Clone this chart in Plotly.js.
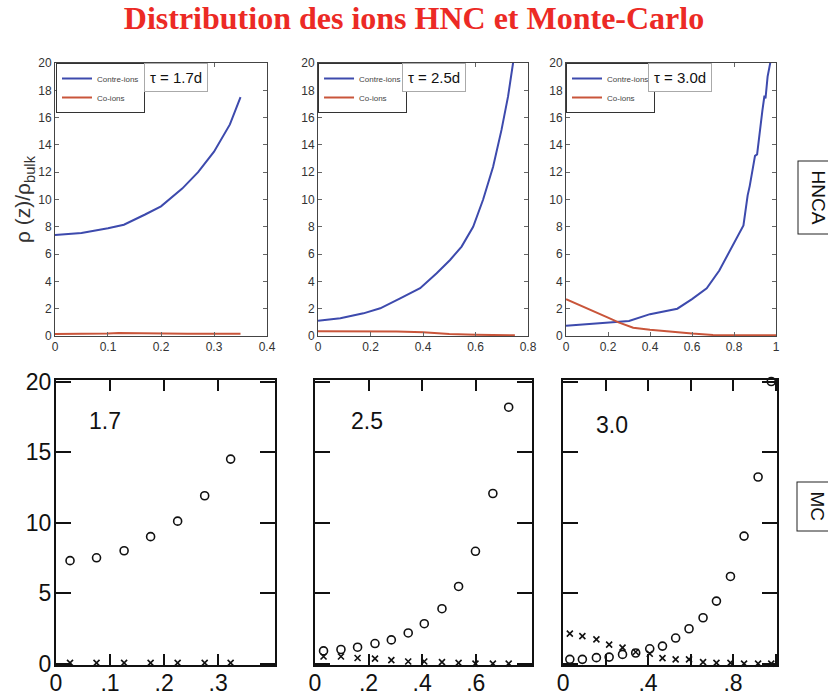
<!DOCTYPE html>
<html>
<head>
<meta charset="utf-8">
<script src="https://cdn.plot.ly/plotly-3.0.1.min.js"></script>
<style>html,body{margin:0;padding:0;background:#fff;}#chart{width:828px;height:700px;}</style>
</head>
<body>
<div id="chart"></div>
<script>
// ---------- HNCA (top row) ----------
const hnca17_x_contre = [0, 0.05, 0.1, 0.13, 0.17, 0.2, 0.24, 0.27, 0.3, 0.33, 0.35];
const hnca17_contre   = [7.4, 7.55, 7.9, 8.15, 8.9, 9.5, 10.8, 12.0, 13.5, 15.5, 17.5];
const hnca17_x_co     = [0, 0.05, 0.1, 0.12, 0.15, 0.2, 0.25, 0.3, 0.35];
const hnca17_co       = [0.15, 0.15, 0.18, 0.22, 0.2, 0.17, 0.17, 0.17, 0.17];

const hnca25_x_contre = [0, 0.085, 0.173, 0.237, 0.313, 0.389, 0.452, 0.503, 0.547, 0.591, 0.629, 0.667, 0.699, 0.724, 0.743, 0.75];
const hnca25_contre   = [1.12, 1.3, 1.66, 2.03, 2.76, 3.5, 4.6, 5.57, 6.55, 8.0, 10.0, 12.4, 15.1, 17.55, 20.0, 21.0];
const hnca25_x_co     = [0, 0.1, 0.2, 0.3, 0.4, 0.5, 0.6, 0.7, 0.75];
const hnca25_co       = [0.35, 0.35, 0.35, 0.33, 0.28, 0.15, 0.09, 0.06, 0.05];

const hnca30_x_contre = [0, 0.1, 0.2, 0.3, 0.4, 0.53, 0.6, 0.67, 0.73, 0.8, 0.845, 0.865, 0.875, 0.9, 0.91, 0.935, 0.945, 0.95, 0.96, 0.975];
const hnca30_contre   = [0.75, 0.85, 0.98, 1.1, 1.6, 2.0, 2.7, 3.5, 4.8, 6.8, 8.1, 10.3, 11.0, 13.2, 13.3, 16.5, 17.6, 17.4, 19.0, 20.2];
const hnca30_x_co     = [0, 0.1, 0.2, 0.25, 0.32, 0.4, 0.5, 0.6, 0.7, 0.8, 1.0];
const hnca30_co       = [2.7, 2.05, 1.35, 1.0, 0.6, 0.45, 0.3, 0.18, 0.08, 0.05, 0.05];

// ---------- Monte-Carlo (bottom row) ----------
const mc17_x       = [0.026, 0.075, 0.126, 0.175, 0.225, 0.275, 0.323];
const mc17_contre  = [7.3, 7.5, 8.0, 9.0, 10.1, 11.9, 14.5];
const mc17_co      = [0.05, 0.05, 0.05, 0.05, 0.05, 0.05, 0.05];

const mc25_x       = [0.032, 0.097, 0.159, 0.224, 0.285, 0.348, 0.408, 0.474, 0.536, 0.599, 0.664, 0.723];
const mc25_contre  = [0.9, 1.0, 1.16, 1.42, 1.68, 2.17, 2.83, 3.89, 5.47, 7.96, 12.06, 18.18];
const mc25_co      = [0.5, 0.5, 0.4, 0.35, 0.25, 0.15, 0.15, 0.1, 0.05, 0.0, 0.0, 0.0];

const mc30_x       = [0.032, 0.091, 0.157, 0.217, 0.28, 0.342, 0.408, 0.468, 0.53, 0.593, 0.659, 0.722, 0.788, 0.852, 0.918, 0.98];
const mc30_contre  = [0.3, 0.3, 0.42, 0.46, 0.65, 0.75, 1.05, 1.24, 1.81, 2.47, 3.25, 4.43, 6.18, 9.04, 13.23, 20.0];
const mc30_co      = [2.12, 1.95, 1.72, 1.34, 1.13, 0.82, 0.7, 0.39, 0.3, 0.3, 0.1, 0.05, 0.05, 0.0, 0.0, 0.0];

// ---------- labels ----------
const titleText   = 'Distribution des ions HNC et Monte-Carlo';
const seriesNames = ['Contre-ions', 'Co-ions'];
const tauLabels   = ['τ = 1.7d', 'τ = 2.5d', 'τ = 3.0d'];
const mcLabels    = ['1.7', '2.5', '3.0'];
const rowLabels   = ['HNCA', 'MC'];
const yTitleTop   = 'ρ (z)/ρ<sub>bulk</sub>';
const mcYTicks    = [0, 5, 10, 15, 20];
const mcYTickText = ['0', '5', '10', '15', '20'];
const mc17XTicks  = [0, 0.1, 0.2, 0.3];
const mc17XText   = ['0', '.1', '.2', '.3'];
const mc25XTicks  = [0, 0.2, 0.4, 0.6];
const mc25XText   = ['0', '.2', '.4', '.6'];
const mc30XTicks  = [0, 0.4, 0.8];
const mc30XText   = ['0', '.4', '.8'];

// ---------- styling ----------
const BLUE = '#3d4aad';
const RED  = '#c9553a';
const topFont = {family: 'Liberation Sans, Arial, sans-serif', size: 12, color: '#333'};
const botFont = {family: 'Liberation Sans, Arial, sans-serif', size: 23, color: '#111'};

function lineTrace(x, y, name, color, xa, ya, leg, show) {
  return {x: x, y: y, type: 'scatter', mode: 'lines', name: name,
          line: {color: color, width: 2}, xaxis: xa, yaxis: ya,
          legend: leg, showlegend: show, hoverinfo: 'skip'};
}
function circTrace(x, y, xa, ya) {
  return {x: x, y: y, type: 'scatter', mode: 'markers', showlegend: false,
          marker: {symbol: 'circle-open', size: 8, color: '#111', line: {width: 1.6, color: '#111'}},
          xaxis: xa, yaxis: ya, cliponaxis: false, hoverinfo: 'skip'};
}
function crossTrace(x, y, xa, ya) {
  return {x: x, y: y, type: 'scatter', mode: 'markers', showlegend: false,
          marker: {symbol: 'x-thin-open', size: 6, color: '#111', line: {width: 1.6, color: '#111'}},
          xaxis: xa, yaxis: ya, cliponaxis: false, hoverinfo: 'skip'};
}

const traces = [
  lineTrace(hnca17_x_contre, hnca17_contre, seriesNames[0], BLUE, 'x', 'y', 'legend', true),
  lineTrace(hnca17_x_co, hnca17_co, seriesNames[1], RED, 'x', 'y', 'legend', true),
  lineTrace(hnca25_x_contre, hnca25_contre, seriesNames[0], BLUE, 'x2', 'y2', 'legend2', true),
  lineTrace(hnca25_x_co, hnca25_co, seriesNames[1], RED, 'x2', 'y2', 'legend2', true),
  lineTrace(hnca30_x_contre, hnca30_contre, seriesNames[0], BLUE, 'x3', 'y3', 'legend3', true),
  lineTrace(hnca30_x_co, hnca30_co, seriesNames[1], RED, 'x3', 'y3', 'legend3', true),
  crossTrace(mc17_x, mc17_co, 'x4', 'y4'),
  circTrace(mc17_x, mc17_contre, 'x4', 'y4'),
  crossTrace(mc25_x, mc25_co, 'x5', 'y5'),
  circTrace(mc25_x, mc25_contre, 'x5', 'y5'),
  crossTrace(mc30_x, mc30_co, 'x6', 'y6'),
  circTrace(mc30_x, mc30_contre, 'x6', 'y6')
];

function topX(domain, range, dtick, anchor) {
  return {domain: domain, range: range, dtick: dtick, anchor: anchor, showgrid: false, zeroline: false,
          showline: true, linecolor: '#444', linewidth: 1, mirror: 'ticks', ticks: 'inside', ticklen: 4,
          tickcolor: '#666', tickfont: topFont, fixedrange: true};
}
function topY(domain, anchor, title) {
  const a = {domain: domain, range: [0, 20], dtick: 2, anchor: anchor, showgrid: false, zeroline: false,
          showline: true, linecolor: '#444', linewidth: 1, mirror: 'ticks', ticks: 'inside', ticklen: 4,
          tickcolor: '#666', tickfont: topFont, fixedrange: true};
  if (title) a.title = {text: title, font: {family: 'Liberation Sans, Arial, sans-serif', size: 21, color: '#333'}, standoff: 1};
  return a;
}
function botX(domain, range, vals, text, anchor, minorDtick) {
  const a = {domain: domain, range: range, tickmode: 'array', tickvals: vals, ticktext: text, anchor: anchor,
          showgrid: false, zeroline: false, showline: true, linecolor: '#111', linewidth: 2, mirror: 'ticks',
          ticks: 'inside', ticklen: 11, tickwidth: 2, tickcolor: '#111', tickfont: botFont,
          ticklabelstandoff: -4, fixedrange: true};
  if (minorDtick) a.minor = {dtick: minorDtick, tick0: 0, ticks: 'inside', ticklen: 11, tickwidth: 2, tickcolor: '#111', showgrid: false};
  return a;
}
function botY(domain, anchor, labels) {
  return {domain: domain, range: [-0.1, 20.1], tickmode: 'array', tickvals: mcYTicks, ticktext: mcYTickText,
          anchor: anchor, showticklabels: labels, showgrid: false, zeroline: false, showline: true,
          linecolor: '#111', linewidth: 2, mirror: 'ticks', ticks: 'inside', ticklen: 15, tickwidth: 2,
          tickcolor: '#111', tickfont: botFont, ticklabelstandoff: -2, fixedrange: true};
}

const topDom = [0.52, 0.91];
const botDom = [0.05, 0.457];

function legendCfg(x) {
  return {x: x, y: 0.91, xref: 'paper', yref: 'paper', xanchor: 'left', yanchor: 'top',
          bgcolor: '#fff', bordercolor: '#333', borderwidth: 1,
          font: {family: 'Liberation Sans, Arial, sans-serif', size: 8, color: '#444'},
          itemwidth: 30, tracegroupgap: 0, itemclick: false, itemdoubleclick: false};
}

function tauAnn(text, xref, yref, x) {
  return {text: text, xref: xref, yref: yref, x: x, y: 1, xanchor: 'left', yanchor: 'top', showarrow: false,
          font: {family: 'Liberation Sans, Arial, sans-serif', size: 15, color: '#111'},
          bgcolor: '#fff', bordercolor: '#aaa', borderwidth: 1, borderpad: 5};
}
function mcAnn(text, xref, yref, x, y) {
  return {text: text, xref: xref, yref: yref, x: x, y: y, xanchor: 'center', yanchor: 'middle', showarrow: false,
          font: {family: 'Liberation Sans, Arial, sans-serif', size: 23, color: '#111'}};
}
function rowAnn(text, y) {
  return {text: text, xref: 'paper', yref: 'paper', x: 797 / 828, y: y, xanchor: 'left', yanchor: 'middle',
          showarrow: false, textangle: 90, font: {family: 'Liberation Sans, Arial, sans-serif', size: 19, color: '#111'},
          bgcolor: '#fff', bordercolor: '#222', borderwidth: 1, borderpad: 9};
}

const layout = {
  width: 828, height: 700,
  margin: {l: 0, r: 0, t: 0, b: 0},
  paper_bgcolor: '#fff', plot_bgcolor: '#fff',
  title: {text: titleText, x: 0.5, xanchor: 'center', y: 1 - 18 / 700, yanchor: 'middle',
          font: {family: 'Liberation Serif, serif', size: 32, color: '#ec2a25', weight: 'bold'}},
  xaxis:  topX([0.0664, 0.3225], [0, 0.4], 0.1, 'y'),
  yaxis:  topY(topDom, 'x', yTitleTop),
  xaxis2: topX([0.3841, 0.6377], [0, 0.8], 0.2, 'y2'),
  yaxis2: topY(topDom, 'x2'),
  xaxis3: topX([0.6836, 0.9372], [0, 1], 0.2, 'y3'),
  yaxis3: topY(topDom, 'x3'),
  xaxis4: botX([0.0676, 0.3321], [0, 0.405], mc17XTicks, mc17XText, 'y4'),
  yaxis4: botY(botDom, 'x4', true),
  xaxis5: botX([0.3804, 0.6425], [0, 0.81], mc25XTicks, mc25XText, 'y5'),
  yaxis5: botY(botDom, 'x5', false),
  xaxis6: botX([0.6800, 0.9384], [0, 1.007], mc30XTicks, mc30XText, 'y6', 0.2),
  yaxis6: botY(botDom, 'x6', false),
  legend:  legendCfg(0.0676),
  legend2: legendCfg(0.3841),
  legend3: legendCfg(0.6836),
  annotations: [
    tauAnn(tauLabels[0], 'x domain', 'y domain', 0.42),
    tauAnn(tauLabels[1], 'x2 domain', 'y2 domain', 0.40),
    tauAnn(tauLabels[2], 'x3 domain', 'y3 domain', 0.39),
    mcAnn(mcLabels[0], 'x4 domain', 'y4 domain', 0.224, 0.855),
    mcAnn(mcLabels[1], 'x5 domain', 'y5 domain', 0.24, 0.855),
    mcAnn(mcLabels[2], 'x6 domain', 'y6 domain', 0.229, 0.843),
    rowAnn(rowLabels[0], 1 - 197 / 700),
    rowAnn(rowLabels[1], 1 - 506 / 700)
  ]
};

Plotly.newPlot('chart', traces, layout, {staticPlot: true, displayModeBar: false});
</script>
</body>
</html>
